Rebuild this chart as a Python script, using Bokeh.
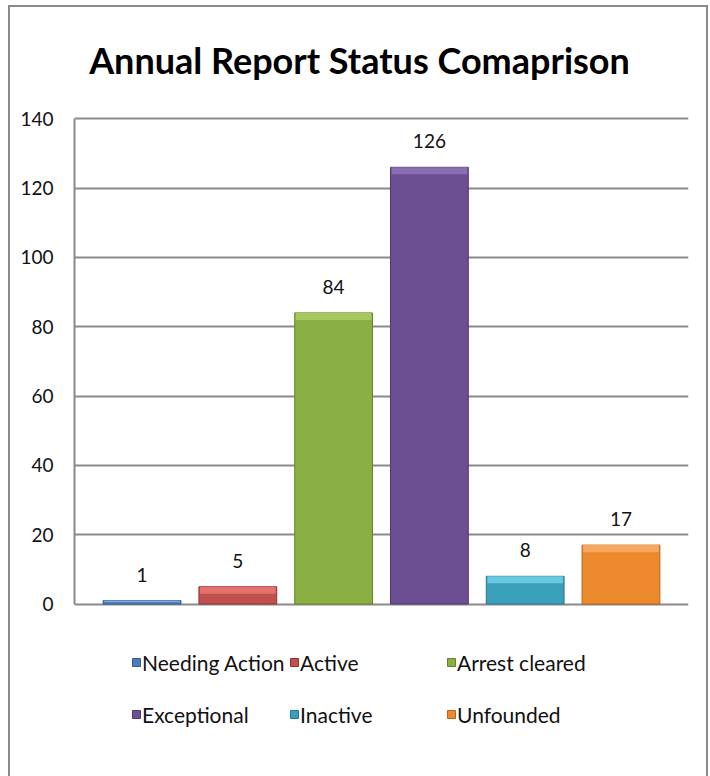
from bokeh.plotting import figure
from bokeh.models import (ColumnDataSource, Range1d, FixedTicker, LabelSet,
                          Label, Legend, LegendItem)
from bokeh.core.properties import value
from bokeh.embed import file_html
from bokeh.resources import INLINE

# ---- data ----
categories = ["Needing Action", "Active", "Arrest cleared",
              "Exceptional", "Inactive", "Unfounded"]
values = [1, 5, 84, 126, 8, 17]
bar_colors = ["#4a7ebb", "#c0504d", "#8ab043", "#6c4f93", "#3aa0ba", "#ec8a2d"]
edge_colors = ["#345d8f", "#8e3431", "#66832c", "#4e386f", "#2c7890", "#b8621a"]
bevel_colors = ["#7aa6dc", "#e4726e", "#a6c95e", "#8a6eb2", "#68c8df", "#f8a85e"]
y_ticks = [0, 20, 40, 60, 80, 100, 120, 140]
title_text = "Annual Report Status Comaprison"

FONT = "Lato"
GRAY = "#8a8a8a"

# ---- layout geometry (pixels) ----
W, H = 700, 771            # element size incl. 2px border (border-box)
INNER_H = H - 2
AXIS_PX = 484              # height of the 0..140 value band
ZERO_FROM_TOP = 595        # y of value 0 inside the canvas
BEVEL_PX = 7
px_per_unit = AXIS_PX / y_ticks[-1]
y_top = ZERO_FROM_TOP / px_per_unit
y_bottom = -(INNER_H - ZERO_FROM_TOP) / px_per_unit
bevel_units = BEVEL_PX / px_per_unit

positions = list(range(len(categories)))
src = ColumnDataSource(dict(
    x=positions, top=values, label=[str(v) for v in values],
    color=bar_colors, edge=edge_colors, bevel=bevel_colors,
    bevel_bottom=[v - min(bevel_units, v / 2) for v in values],
    name=categories))

p = figure(width=W, height=H, output_backend="svg", toolbar_location=None,
           x_range=Range1d(-0.705, len(categories) - 1 + 0.705),
           y_range=Range1d(y_bottom, y_top),
           min_border_left=64, min_border_right=22,
           min_border_top=0, min_border_bottom=0)
p.title.visible = False

p.styles = {"margin-left": "8px", "margin-top": "5px",
            "border-left": "2px solid #8a8a8a",
            "border-top": "2px solid #8a8a8a",
            "border-right": "2px solid #8a8a8a"}

p.background_fill_color = "white"
p.border_fill_color = "white"
p.outline_line_color = None

# axes
p.xaxis.visible = False

p.yaxis.ticker = FixedTicker(ticks=y_ticks)
p.yaxis.bounds = (y_ticks[0], y_ticks[-1])
p.yaxis.axis_line_color = GRAY
p.yaxis.axis_line_width = 2
p.yaxis.major_tick_line_color = None
p.yaxis.minor_tick_line_color = None
p.yaxis.major_tick_out = 0
p.yaxis.major_tick_in = 0
p.yaxis.major_label_standoff = 21
p.yaxis.major_label_text_font = FONT
p.yaxis.major_label_text_font_size = "19px"
p.yaxis.major_label_text_color = "#111111"

p.xgrid.grid_line_color = None
p.ygrid.grid_line_color = GRAY
p.ygrid.grid_line_width = 2

# bars
bars = p.vbar(x="x", top="top", bottom=0, width=0.812, source=src,
              fill_color="color", line_color="edge", line_width=1)
# top bevel highlight of each bar
p.vbar(x="x", top="top", bottom="bevel_bottom", width=0.79, source=src,
       fill_color="bevel", line_color=None)

# data labels
labels = LabelSet(x="x", y="top", text="label", source=src, y_offset=19,
                  text_align="center", text_baseline="alphabetic",
                  text_font=value(FONT), text_font_size="19px",
                  text_color="#111111")
p.add_layout(labels)

# title (inside the frame, above the value band)
title = Label(x=sum(positions) / len(positions), y=y_ticks[-1],
              x_offset=-22, y_offset=59, text=title_text,
              text_align="center", text_baseline="alphabetic",
              text_font=FONT, text_font_size="36px",
              text_font_style="bold", text_color="#000000")
p.add_layout(title)

# legend: three columns of two rows
ncols = 3
col_x = [57, 215, 372]
for c in range(ncols):
    items = [LegendItem(label=categories[i], renderers=[bars], index=i)
             for i in range(len(categories)) if i % ncols == c]
    lg = Legend(items=items, location=(col_x[c], 51), orientation="vertical",
                glyph_width=10, glyph_height=10, label_standoff=1,
                label_text_font=FONT, label_text_font_size="21px",
                label_text_color="#111111", label_height=26, spacing=26,
                padding=0, margin=0, border_line_color=None,
                background_fill_alpha=0)
    p.add_layout(lg)

open("out.html", "w").write(file_html(p, INLINE))
